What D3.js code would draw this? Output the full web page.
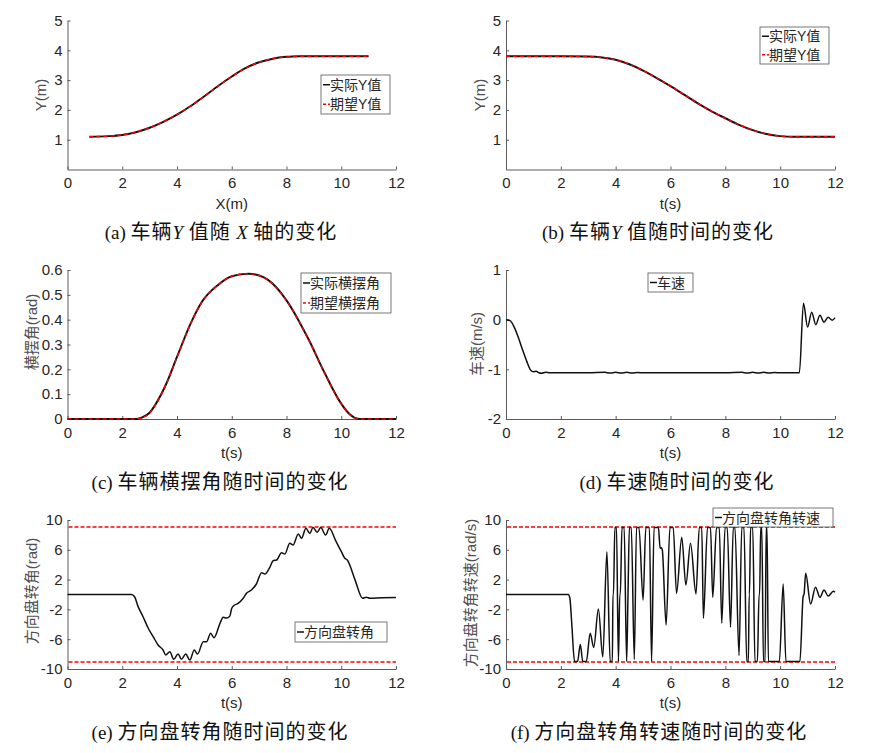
<!DOCTYPE html>
<html><head><meta charset="utf-8">
<script src="https://cdn.jsdelivr.net/npm/d3@7"></script>
<style>body{margin:0;background:#fff}</style>
</head><body><svg id="c" width="871" height="753"></svg>
<script>
// ---------- DATA ----------
const xTicks = [0, 2, 4, 6, 8, 10, 12];
const yTicksAB = [1, 2, 3, 4, 5];
const yTicksC = [0, 0.1, 0.2, 0.3, 0.4, 0.5, 0.6];
const yTicksD = [-2, -1, 0, 1];
const yTicksEF = [-10, -6, -2, 2, 6, 10];
const limitLines = [9, -9];

// (a) Y vs X
const aX = [0.8, 1.5, 2, 2.5, 3, 3.5, 4, 4.5, 5, 5.5, 6, 6.5, 7, 7.5, 8, 8.5, 9, 10, 11];
const aYActual = [1.1, 1.12, 1.16, 1.25, 1.4, 1.6, 1.84, 2.13, 2.46, 2.8, 3.12, 3.4, 3.6, 3.72, 3.78, 3.8, 3.8, 3.8, 3.8];
const aYDesired = [1.1, 1.12, 1.16, 1.25, 1.4, 1.6, 1.84, 2.13, 2.46, 2.8, 3.12, 3.4, 3.6, 3.72, 3.78, 3.8, 3.8, 3.8, 3.8];

// (b) Y vs t
const bT = [0, 1, 2, 3, 3.5, 4, 4.5, 5, 5.5, 6, 6.5, 7, 7.5, 8, 8.5, 9, 9.5, 10, 10.5, 11, 12];
const bYActual = [3.8, 3.8, 3.8, 3.79, 3.76, 3.68, 3.53, 3.32, 3.07, 2.8, 2.51, 2.22, 1.95, 1.72, 1.5, 1.32, 1.19, 1.12, 1.1, 1.1, 1.1];
const bYDesired = [3.8, 3.8, 3.8, 3.79, 3.76, 3.68, 3.53, 3.32, 3.07, 2.8, 2.51, 2.22, 1.95, 1.72, 1.5, 1.32, 1.19, 1.12, 1.1, 1.1, 1.1];

// (c) yaw angle vs t
const cT = [0, 1, 2, 2.5, 2.7, 3, 3.2, 3.6, 4, 4.5, 4.9, 5.5, 6, 6.6, 7, 7.3, 8, 8.8, 9.4, 9.95, 10.3, 10.6, 10.8, 11.2, 12];
const cYawActual = [0, 0, 0, 0, 0.005, 0.025, 0.056, 0.14, 0.25, 0.385, 0.47, 0.54, 0.575, 0.585, 0.578, 0.562, 0.478, 0.322, 0.184, 0.07, 0.02, 0.001, 0, 0, 0];
const cYawDesired = [0, 0, 0, 0, 0.004, 0.024, 0.055, 0.139, 0.249, 0.384, 0.469, 0.54, 0.575, 0.585, 0.578, 0.561, 0.477, 0.321, 0.183, 0.069, 0.019, 0.001, 0, 0, 0];

// (d) speed vs t
const dT = [0, 0.15, 0.3, 0.45, 0.6, 0.75, 0.9, 1.0, 1.1, 1.2, 1.3, 1.45, 1.6, 2, 3, 3.6, 3.8, 4.0, 4.2, 4.4, 4.6, 4.8, 5, 6, 7, 8, 8.6, 8.8, 9, 9.2, 9.4, 9.6, 9.8, 10, 10.7, 10.85, 11.0, 11.15, 11.3, 11.45, 11.6, 11.75, 11.9, 12];
const dSpeed = [0, -0.02, -0.15, -0.36, -0.6, -0.83, -1.02, -1.05, -1.04, -1.07, -1.08, -1.06, -1.07, -1.07, -1.07, -1.06, -1.075, -1.06, -1.075, -1.06, -1.075, -1.065, -1.07, -1.07, -1.07, -1.07, -1.06, -1.075, -1.06, -1.075, -1.06, -1.075, -1.065, -1.07, -1.07, 0.33, -0.15, 0.15, -0.1, 0.09, -0.05, 0.05, -0.01, 0.04];

// (e) steering angle vs t
const eT = [0, 2.34, 2.45, 2.58, 2.76, 2.95, 3.13, 3.31, 3.49, 3.59, 3.74, 3.88, 4.04, 4.16, 4.32, 4.47, 4.63, 4.75, 4.96, 5.08, 5.23, 5.35, 5.57, 5.69, 5.81, 5.93, 6.0, 6.11, 6.23, 6.42, 6.54, 6.72, 6.9, 7.09, 7.21, 7.39, 7.51, 7.64, 7.82, 7.94, 8.12, 8.24, 8.43, 8.55, 8.71, 8.85, 8.97, 9.12, 9.25, 9.43, 9.56, 9.8, 10.0, 10.13, 10.22, 10.5, 10.78, 10.92, 11.05, 11.5, 12];
const eAngle = [0, 0, -0.3, -1.63, -2.98, -4.53, -5.66, -6.78, -7.45, -8.12, -7.67, -8.7, -7.98, -8.7, -8.0, -8.8, -7.45, -8.0, -6.33, -6.33, -5.2, -5.8, -3.87, -3.06, -3.17, -2.9, -1.85, -1.41, -1.2, -0.51, 0.16, 0.6, 1.41, 2.93, 2.75, 3.65, 4.54, 4.63, 5.61, 5.44, 6.87, 6.65, 8.12, 7.54, 8.88, 8.2, 9.0, 8.35, 9.0, 7.99, 8.88, 7.2, 5.78, 4.86, 4.63, 2.0, -0.51, -0.38, -0.51, -0.42, -0.4];

// (f) steering rate vs t
const fT = [0, 2.27, 2.33, 2.4, 2.5, 2.61, 2.71, 2.8, 2.93, 3.07, 3.2, 3.37, 3.53, 3.68, 3.8, 3.88, 3.9, 3.92, 3.97, 4.03, 4.1, 4.15, 4.17, 4.23, 4.31, 4.4, 4.45, 4.5, 4.57, 4.68, 4.76, 4.85, 5.0, 5.1, 5.23, 5.31, 5.4, 5.56, 5.62, 5.66, 5.7, 5.84, 5.98, 6.1, 6.22, 6.41, 6.56, 6.73, 6.93, 7.05, 7.14, 7.2, 7.35, 7.46, 7.54, 7.68, 7.78, 7.87, 7.99, 8.07, 8.19, 8.29, 8.35, 8.5, 8.6, 8.68, 8.78, 8.84, 8.87, 8.88, 8.92, 9.0, 9.08, 9.17, 9.23, 9.25, 9.29, 9.33, 9.39, 9.45, 9.49, 9.52, 9.57, 9.97, 10.11, 10.21, 10.72, 10.84, 10.87, 10.93, 11.11, 11.29, 11.45, 11.6, 11.75, 11.94, 12];
const fRate = [0, 0, -0.5, -4, -9, -9, -6.7, -9, -9, -5.2, -7.1, -1.95, -8.4, 5.75, -9, -9, 0, 0, 9, 9, -9, 0, 0, 9, 9, -9, 0, 9, 9, -8.7, 9, 9, -0.74, 9, 9, -9, 9, 9, 6.2, 6.3, 6.0, -4.1, 9, 9, 0.16, 7.67, 1.28, 6.87, 0.07, 9, 9, -3.2, 9, 9, -0.38, 9, 9, -3.87, 9, 9, -4.4, 9, 9, -8.2, 9, 9, -9, -9, 0, 0, 9, 9, -9, -9, 0, 0, 9, 9, -9, -9, 9, 9, -9, -9, 1.4, -9, -9, -0.2, 0, 2.84, -1.27, 0.97, -0.38, 0.6, -0.2, 0.42, 0.3];

// ---------- DRAWING ----------
const svg = d3.select('#c');
const numFont = "'Liberation Sans', Arial, sans-serif";
const cjkFont = "'Noto Sans CJK SC', sans-serif";
const serifFont = "'Liberation Serif', 'Times New Roman', serif";
const axisColor = '#5a5a5a';
const red = '#ff0000';

function panel(o) {
  const x = d3.scaleLinear().domain([0, 12]).range([o.x0, o.x1]);
  const y = d3.scaleLinear().domain(o.yDomain).range([o.yBot, o.yTop]);
  const g = svg.append('g');

  const ax = g.append('g').attr('transform', `translate(0,${o.yBot})`)
    .call(d3.axisBottom(x).tickValues(xTicks).tickFormat(d3.format('d')).tickSizeInner(-3).tickSizeOuter(0).tickPadding(8));
  const ay = g.append('g').attr('transform', `translate(${o.x0},0)`)
    .call(d3.axisLeft(y).tickValues(o.yTicks).tickFormat(o.fmt || (d => d)).tickSizeInner(-3).tickSizeOuter(0).tickPadding(5));
  [ax, ay].forEach(a => {
    a.selectAll('path').attr('stroke', axisColor).attr('stroke-width', 1);
    a.selectAll('line').attr('stroke', axisColor);
    a.selectAll('text').attr('fill', '#262626').style('font-family', numFont).style('font-size', '15px');
  });

  // x label
  g.append('text').attr('x', (o.x0 + o.x1) / 2).attr('y', o.yBot + 39)
    .attr('text-anchor', 'middle').attr('fill', '#262626')
    .style('font-family', numFont).style('font-size', '15px').text(o.xLabel);
  // y label
  const yl = g.append('text')
    .attr('transform', `translate(${o.ylx},${o.yly}) rotate(-90)`)
    .attr('text-anchor', 'middle').attr('fill', '#505050')
    .style('font-family', numFont + ',' + cjkFont).style('font-size', '15px');
  o.yLabel.forEach(p => yl.append('tspan').style('font-family', p.cjk ? cjkFont : numFont).text(p.t));

  // limit lines
  if (o.limits) {
    o.limits.forEach(v => {
      const yy = Math.round(y(v));
      g.append('line').attr('x1', o.x0 + 1).attr('x2', o.x1).attr('y1', yy).attr('y2', yy)
        .attr('stroke', red).attr('stroke-width', 1.3).attr('stroke-dasharray', '4,2');
    });
  }

  // series
  o.series.forEach(s => {
    const line = d3.line().x((d, i) => x(s.xs[i])).y(d => y(d)).curve(s.curve || d3.curveMonotoneX);
    g.append('path').datum(s.ys).attr('d', line).attr('fill', 'none')
      .attr('stroke', s.color).attr('stroke-width', s.w)
      .attr('stroke-dasharray', s.dash || null).attr('stroke-linejoin', 'round');
  });

  // legend
  if (o.legend) {
    const L = o.legend;
    g.append('rect').attr('x', L.x).attr('y', L.y).attr('width', L.w).attr('height', L.h)
      .attr('fill', '#fff').attr('stroke', '#555').attr('stroke-width', 0.8);
    const n = L.items.length;
    L.items.forEach((it, i) => {
      const cy = L.y + L.h * (i + 0.5) / n;
      g.append('line').attr('x1', L.x + 2).attr('x2', L.x + 9).attr('y1', cy).attr('y2', cy)
        .attr('stroke', it.color).attr('stroke-width', it.dash ? 1.3 : 1.5)
        .attr('stroke-dasharray', it.dash ? '3,2' : null);
      const t = g.append('text').attr('x', L.x + 9).attr('y', cy + 5)
        .attr('fill', '#262626').style('font-size', '14px');
      it.label.forEach(p => t.append('tspan').style('font-family', p.cjk ? cjkFont : numFont).text(p.t));
    });
  }

  // caption
  const cap = g.append('text').attr('x', o.capX).attr('y', o.capY).attr('text-anchor', 'middle')
    .attr('fill', '#111').style('font-size', '19px').style('font-family', serifFont);
  o.caption.forEach(p => {
    const ts = cap.append('tspan').text(p.t)
      .style('font-family', p.cjk ? cjkFont : serifFont);
    if (p.cjk) ts.style('font-size', '20px').style('letter-spacing', '1px');
    if (p.it) ts.style('font-style', 'italic');
  });
}

const L0 = 67.5, L1 = 396, R0 = 506, R1 = 835;
const rows = [[20.5, 169.5], [270, 419], [520, 669]];
const smooth = d3.curveMonotoneX;

panel({
  x0: L0, x1: L1, yTop: rows[0][0], yBot: rows[0][1], yDomain: [0, 5], yTicks: yTicksAB,
  xLabel: 'X(m)', yLabel: [{t: 'Y(m)'}], ylx: 46, yly: 95,
  series: [
    {xs: aX, ys: aYActual, color: '#111', w: 2, curve: d3.curveCatmullRom.alpha(0.5)},
    {xs: aX, ys: aYDesired, color: red, w: 1.4, dash: '4,3', curve: d3.curveCatmullRom.alpha(0.5)}
  ],
  legend: {x: 321, y: 75, w: 69, h: 39, items: [
    {color: '#111', label: [{t: '实际', cjk: true}, {t: 'Y'}, {t: '值', cjk: true}]},
    {color: red, dash: true, label: [{t: '期望', cjk: true}, {t: 'Y'}, {t: '值', cjk: true}]}
  ]},
  capX: 221, capY: 239,
  caption: [{t: '(a)  '}, {t: '车辆', cjk: true}, {t: 'Y', it: true}, {t: ' 值随 ', cjk: true}, {t: 'X', it: true}, {t: ' 轴的变化', cjk: true}]
});

panel({
  x0: R0, x1: R1, yTop: rows[0][0], yBot: rows[0][1], yDomain: [0, 5], yTicks: yTicksAB,
  xLabel: 't(s)', yLabel: [{t: 'Y(m)'}], ylx: 485, yly: 95,
  series: [
    {xs: bT, ys: bYActual, color: '#111', w: 2, curve: smooth},
    {xs: bT, ys: bYDesired, color: red, w: 1.4, dash: '4,3', curve: smooth}
  ],
  legend: {x: 760, y: 27, w: 69, h: 37, items: [
    {color: '#111', label: [{t: '实际', cjk: true}, {t: 'Y'}, {t: '值', cjk: true}]},
    {color: red, dash: true, label: [{t: '期望', cjk: true}, {t: 'Y'}, {t: '值', cjk: true}]}
  ]},
  capX: 658, capY: 239,
  caption: [{t: '(b)  '}, {t: '车辆', cjk: true}, {t: 'Y', it: true}, {t: ' 值随时间的变化', cjk: true}]
});

panel({
  x0: L0, x1: L1, yTop: rows[1][0], yBot: rows[1][1], yDomain: [0, 0.6], yTicks: yTicksC,
  fmt: d => d === 0 ? '0' : d3.format('.1f')(d),
  xLabel: 't(s)', yLabel: [{t: '横摆角', cjk: true}, {t: '(rad)'}], ylx: 37, yly: 332,
  series: [
    {xs: cT, ys: cYawActual, color: '#111', w: 2, curve: smooth},
    {xs: cT, ys: cYawDesired, color: red, w: 1.4, dash: '4,3', curve: smooth}
  ],
  legend: {x: 301, y: 273, w: 90, h: 40, items: [
    {color: '#111', label: [{t: '实际横摆角', cjk: true}]},
    {color: red, dash: true, label: [{t: '期望横摆角', cjk: true}]}
  ]},
  capX: 220, capY: 489,
  caption: [{t: '(c)  '}, {t: '车辆横摆角随时间的变化', cjk: true}]
});

panel({
  x0: R0, x1: R1, yTop: rows[1][0], yBot: rows[1][1], yDomain: [-2, 1], yTicks: yTicksD,
  xLabel: 't(s)', yLabel: [{t: '车速', cjk: true}, {t: '(m/s)'}], ylx: 482, yly: 344,
  series: [
    {xs: dT, ys: dSpeed, color: '#111', w: 1.5}
  ],
  legend: {x: 648, y: 273, w: 45, h: 19, items: [
    {color: '#111', label: [{t: '车速', cjk: true}]}
  ]},
  capX: 677, capY: 489,
  caption: [{t: '(d)  '}, {t: '车速随时间的变化', cjk: true}]
});

panel({
  x0: L0, x1: L1, yTop: rows[2][0], yBot: rows[2][1], yDomain: [-10, 10], yTicks: yTicksEF,
  xLabel: 't(s)', yLabel: [{t: '方向盘转角', cjk: true}, {t: '(rad)'}], ylx: 37, yly: 591,
  limits: limitLines,
  series: [
    {xs: eT, ys: eAngle, color: '#111', w: 1.5}
  ],
  legend: {x: 295, y: 622, w: 92, h: 20, items: [
    {color: '#111', label: [{t: '方向盘转角', cjk: true}]}
  ]},
  capX: 220, capY: 739,
  caption: [{t: '(e)  '}, {t: '方向盘转角随时间的变化', cjk: true}]
});

panel({
  x0: R0, x1: R1, yTop: rows[2][0], yBot: rows[2][1], yDomain: [-10, 10], yTicks: yTicksEF,
  xLabel: 't(s)', yLabel: [{t: '方向盘转角转速', cjk: true}, {t: '(rad/s)'}], ylx: 476, yly: 593,
  limits: limitLines,
  series: [
    {xs: fT, ys: fRate, color: '#111', w: 1.5}
  ],
  legend: {x: 713, y: 508, w: 120, h: 19, items: [
    {color: '#111', label: [{t: '方向盘转角转速', cjk: true}]}
  ]},
  capX: 659, capY: 739,
  caption: [{t: '(f)  '}, {t: '方向盘转角转速随时间的变化', cjk: true}]
});
</script>
</body></html>
